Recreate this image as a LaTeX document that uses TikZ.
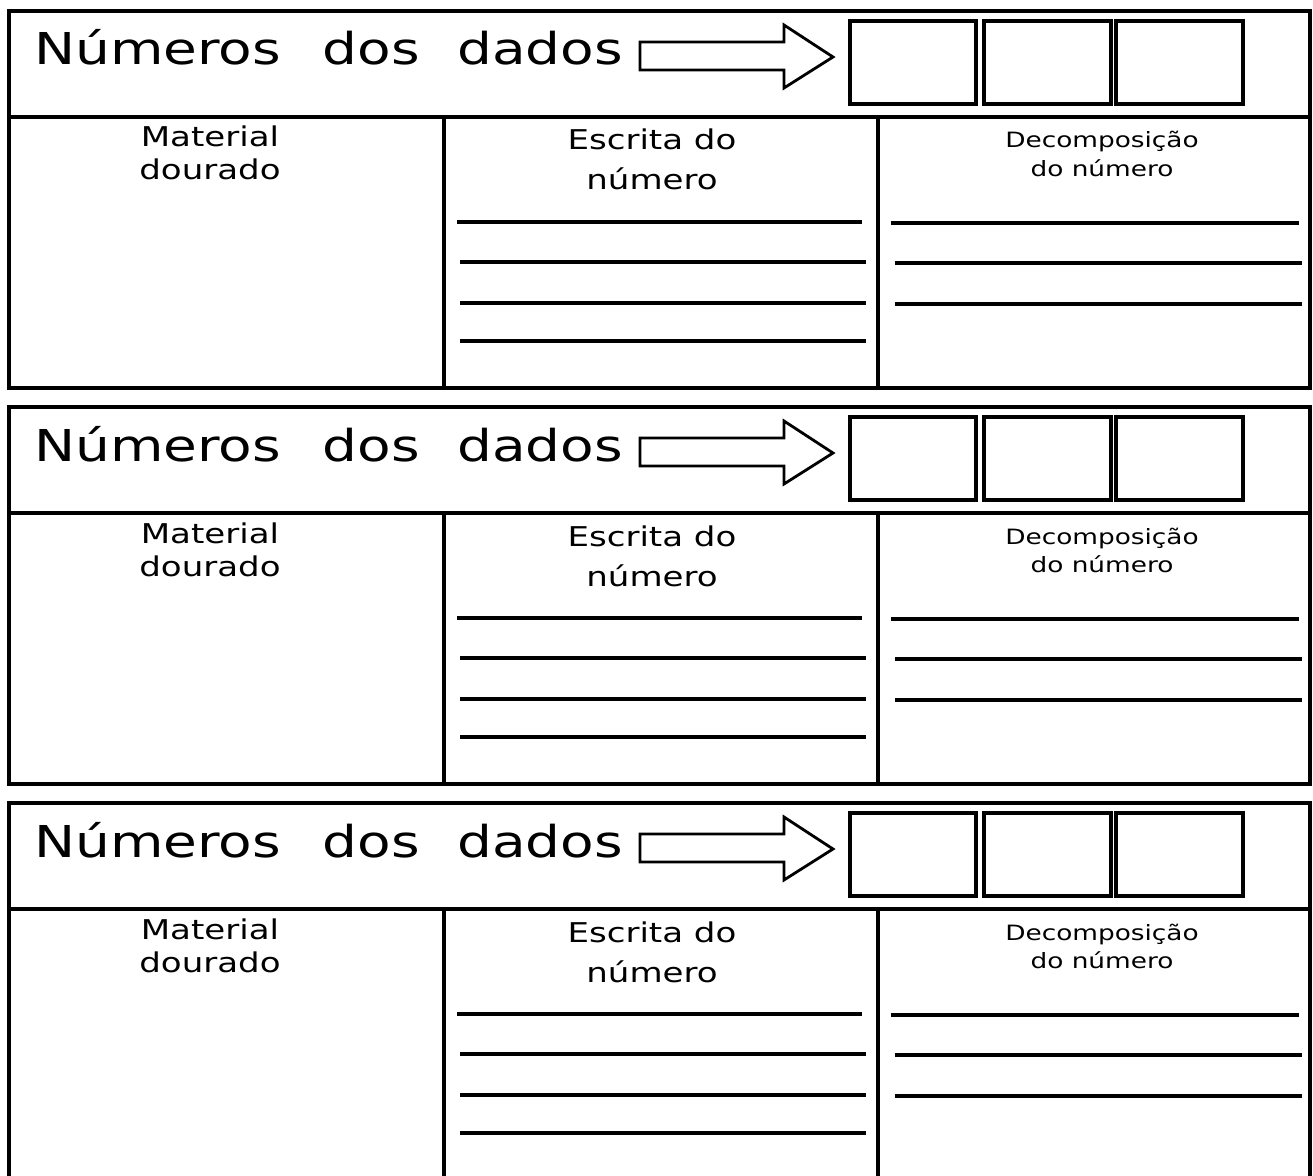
\documentclass[tikz,border=0pt]{standalone}
\usepackage{fontspec}
\setmainfont{DejaVu Sans}[FakeStretch=1.25]
\begin{document}
\begin{tikzpicture}[x=0.02cm,y=-0.02cm,
		frame/.style={line width=1.8pt},
		rule/.style={line width=2.1pt},
		dicebox/.style={line width=2pt},
		titletext/.style={font=\fontsize{25}{30}\selectfont,anchor=base west,inner sep=0pt},
		headtext/.style={font=\fontsize{15.5}{18}\selectfont,anchor=base,inner sep=0pt},
		smalltext/.style={font=\fontsize{12}{14}\selectfont,anchor=base,inner sep=0pt}]
		\useasboundingbox (0,0) rectangle (1313,1176);
		\clip (0,0) rectangle (1313,1176);
		% three equal cards
		\foreach \b in {0,1,2}{
		\begin{scope}[shift={(0,11+396*\b)}]
		\draw[frame] (9,0) rectangle (1310,377);
		\draw[frame] (9,106) -- (1310,106);
		\draw[frame] (444,106) -- (444,377);
		\draw[frame] (878,106) -- (878,377);
		\node[titletext] (Title\b) at (34,54) {Números\hspace{0.95em}dos\hspace{0.85em}dados};
		\draw[line width=1.6pt] (640,31) -- (784,31) -- (784,14) -- (833,46) -- (784,77) -- (784,59) -- (640,59) -- cycle;
		\draw[dicebox] (850,10) rectangle (976,93);
		\draw[dicebox] (984,10) rectangle (1111,93);
		\draw[dicebox] (1116,10) rectangle (1243,93);
		\node[headtext] (Material\b) at (210,136) {Material};
		\node[headtext] (Dourado\b) at (210,169) {dourado};
		\node[headtext] (Escrita\b) at (652,139) {Escrita do};
		\node[headtext] (Numero\b) at (652,179) {número};
		\node[smalltext] (Decomp\b) at (1102,137) {Decomposição};
		\node[smalltext] (DoNumero\b) at (1102,165) {do número};
		\draw[rule] (457,211) -- (862,211);
		\foreach \y in {251,292,330}
			\draw[rule] (460,\y) -- (866,\y);
		\draw[rule] (891,212) -- (1299,212);
		\foreach \y in {252,293}
			\draw[rule] (895,\y) -- (1302,\y);
		\end{scope}
		}
\end{tikzpicture}
\end{document}
